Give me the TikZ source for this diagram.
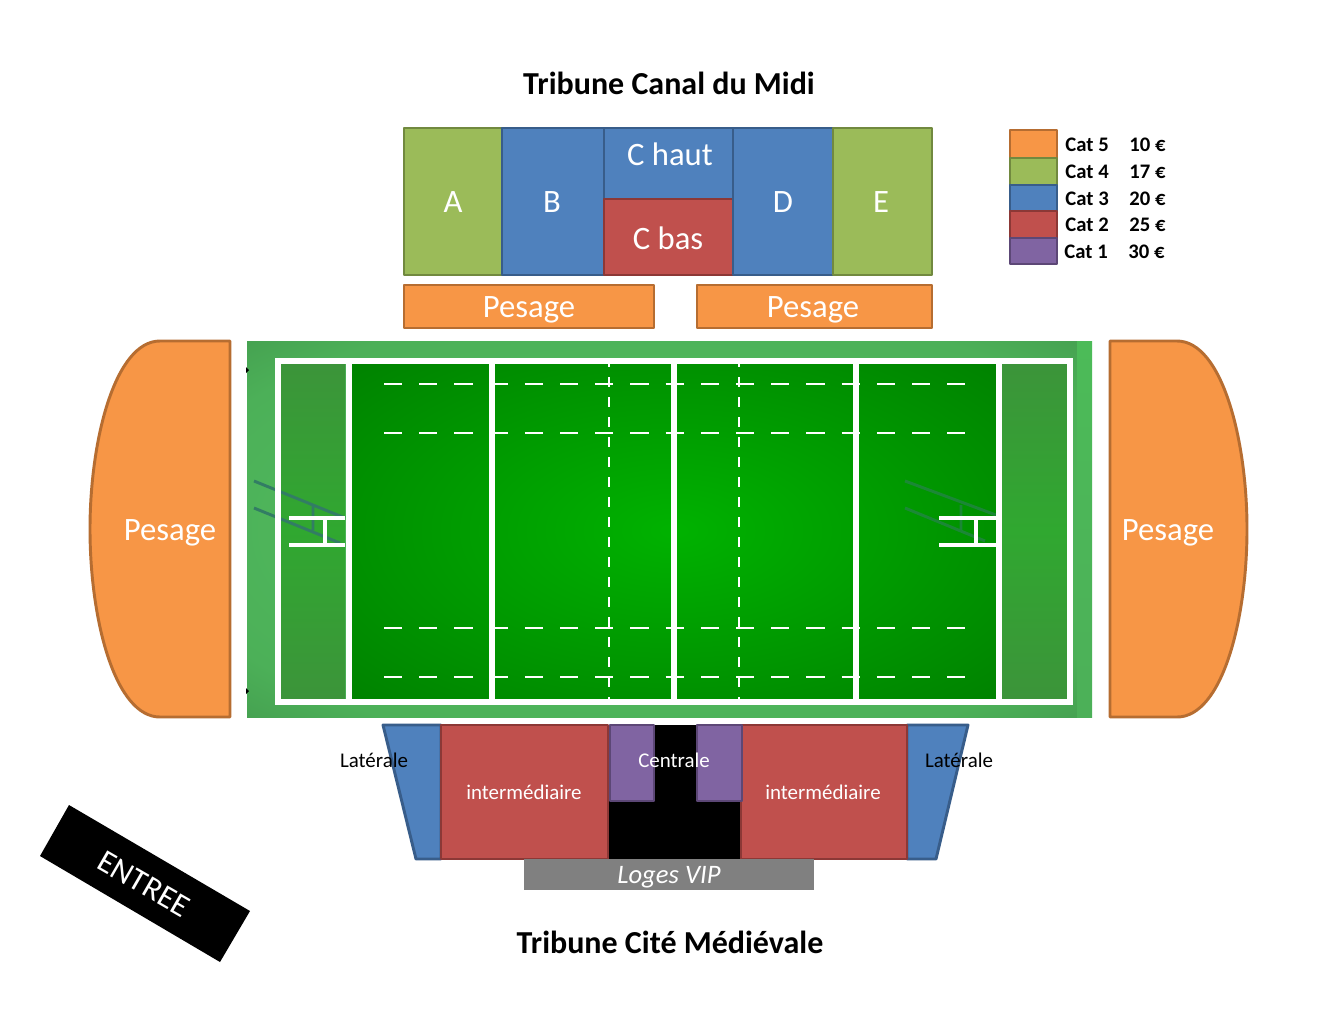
\documentclass[tikz,border=0pt]{standalone}
\usepackage{fontspec}
\setmainfont{Carlito}
\definecolor{orangeF}{HTML}{F79646}
\definecolor{orangeD}{HTML}{B66D31}
\definecolor{greenF}{HTML}{9BBB59}
\definecolor{greenD}{HTML}{71893F}
\definecolor{blueF}{HTML}{4F81BD}
\definecolor{blueD}{HTML}{385D8A}
\definecolor{redF}{HTML}{C0504D}
\definecolor{redD}{HTML}{8C3836}
\definecolor{purpleF}{HTML}{8064A2}
\definecolor{purpleD}{HTML}{5C4776}
\definecolor{postShadow}{RGB}{50,125,100}
\definecolor{borderIn}{RGB}{84,196,98}
\definecolor{borderMid}{RGB}{76,176,88}
\definecolor{borderOut}{RGB}{62,145,72}
\definecolor{borderStrip}{RGB}{76,187,88}
\definecolor{fieldIn}{RGB}{0,178,0}
\definecolor{fieldOut}{RGB}{0,128,0}
\definecolor{goalEdge}{RGB}{60,148,58}
\definecolor{goalMid}{RGB}{48,168,48}
\pgfdeclareradialshading{fieldglow}{\pgfpointorigin}{color(0bp)=(fieldIn); color(37bp)=(fieldOut); color(71bp)=(fieldOut)}
\pgfdeclareradialshading{borderglow}{\pgfpointorigin}{color(0bp)=(borderIn); color(30bp)=(borderMid); color(42bp)=(borderOut); color(71bp)=(borderOut)}
\tikzset{
  cat5/.style={fill=orangeF, draw=orangeD},
  cat4/.style={fill=greenF, draw=greenD},
  cat3/.style={fill=blueF, draw=blueD},
  cat2/.style={fill=redF, draw=redD},
  cat1/.style={fill=purpleF, draw=purpleD},
  goalzone/.style={top color=goalEdge, bottom color=goalEdge, middle color=goalMid},
  seatlabel/.style={text=white, font=\fontsize{24.5}{24.5}\selectfont},
  pesagelabel/.style={text=white, font=\fontsize{24.5}{24.5}\selectfont, yshift=-2pt},
  smalllabel/.style={font=\fontsize{15.7}{15.7}\selectfont},
  titlelabel/.style={font=\bfseries\fontsize{24}{24}\selectfont},
  legendlabel/.style={font=\bfseries\fontsize{15.5}{15.5}\selectfont, anchor=west, inner sep=0pt},
}
\begin{document}
\begin{tikzpicture}[x=0.75pt, y=-0.75pt, line width=2.2pt, line join=round]
    \useasboundingbox (0, 0) rectangle (1344, 1008);
    \fill[white] (0, 0) rectangle (1344, 1008);

    % titres
    \node[titlelabel] (titleTop) at (669, 83) {Tribune Canal du Midi};
    \node[titlelabel] (titleBottom) at (670, 942) {Tribune Cité Médiévale};

    % tribune haut
    \draw[cat4] (404, 128) rectangle (502, 275);
    \draw[cat3] (502, 128) rectangle (604, 275);
    \draw[cat3] (604, 128) rectangle (733, 199);
    \draw[cat2] (604, 199) rectangle (733, 275);
    \draw[cat3] (733, 128) rectangle (833, 275);
    \draw[cat4] (833, 128) rectangle (932, 275);
    \node[seatlabel] (secA) at (453, 202) {A};
    \node[seatlabel] (secB) at (552, 202) {B};
    \node[seatlabel] (secChaut) at (670, 154) {C haut};
    \node[seatlabel] (secCbas) at (668, 238) {C bas};
    \node[seatlabel] (secD) at (783, 202) {D};
    \node[seatlabel] (secE) at (881, 202) {E};

    % pesage haut
    \draw[cat5] (404, 285) rectangle (654, 328);
    \draw[cat5] (697, 285) rectangle (932, 328);
    \node[pesagelabel] (pesageA) at (529, 307) {Pesage};
    \node[pesagelabel] (pesageB) at (813, 307) {Pesage};

    % legende
    \foreach \ya/\yb/\c/\n/\p/\dx in {130/158/cat5/5/10/0, 158/185/cat4/4/17/0, 185/211/cat3/3/20/0, 211/238/cat2/2/25/0, 238/264/cat1/1/30/-1} {
        \draw[\c] (1010, \ya) rectangle (1057, \yb);
        \node[legendlabel] (legendCat\n) at ({1064+\dx}, {(\ya+\yb)/2+0.5}) {Cat \n};
        \node[legendlabel] (legendPrice\n) at ({1128+\dx}, {(\ya+\yb)/2+0.5}) {\p\ €};
    }

    % terrain
    \shade[shading=borderglow] (247, 341) rectangle (1077, 717);
    \shade[top color=borderStrip, bottom color=borderMid] (1077, 341) rectangle (1092, 717);
    \fill[black] (246, 367) -- (249, 370) -- (246, 373) -- cycle;
    \fill[black] (246, 688) -- (249, 691) -- (246, 694) -- cycle;
    \shade[shading=fieldglow] (352, 362) rectangle (996, 699);
    \shade[goalzone] (281, 362) rectangle (345, 699);
    \shade[goalzone] (1002, 362) rectangle (1067, 699);

    % ombres des poteaux
    \draw[postShadow, line width=2.2pt] (254, 481) -- (345, 518) (254, 508) -- (340, 543) (313, 505) -- (313, 530);
    \draw[postShadow, opacity=.55, line width=2.2pt] (905, 481) -- (996, 515) (905, 508) -- (985, 541) (961, 505) -- (961, 530);

    % lignes
    \foreach \y in {384, 433, 628, 677} {
        \draw[white, line width=1.8pt, dash pattern=on 13.6pt off 12.8pt] (384, \y) -- (965, \y);
    }
    \foreach \x in {609, 739} {
        \draw[white, line width=2pt, dash pattern=on 7.8pt off 7.2pt, dash phase=1.5pt] (\x, 359) -- (\x, 700);
    }
    \draw[white, line width=4.5pt, line join=miter] (278, 361) rectangle (1070, 702);
    \foreach \x in {348.5, 492, 674, 856, 999} {
        \draw[white, line width=4.5pt] (\x, 361) -- (\x, 702);
    }

    % poteaux
    \draw[white, line width=3pt] (289, 518) -- (345, 518) (289, 545) -- (345, 545) (325, 518) -- (325, 545);
    \draw[white, line width=3pt] (939, 518) -- (996, 518) (939, 545) -- (996, 545) (976, 518) -- (976, 545);

    % pesage cotes
    \draw[cat5] (230, 341) -- (160, 341) .. controls (115, 341) and (90, 440) .. (90, 529) .. controls (90, 620) and (115, 717) .. (160, 717) -- (230, 717) -- cycle;
    \draw[cat5] (1110, 341) -- (1177, 341) .. controls (1222, 341) and (1247, 440) .. (1247, 529) .. controls (1247, 620) and (1222, 717) .. (1177, 717) -- (1110, 717) -- cycle;
    \node[pesagelabel] (pesageLeft) at (170, 530) {Pesage};
    \node[pesagelabel] (pesageRight) at (1168, 530) {Pesage};

    % tribune bas
    \fill[black] (609, 725) rectangle (741, 859);
    \draw[cat3] (383, 725) -- (441, 725) -- (441, 859) -- (416, 859) -- cycle;
    \draw[cat3] (907, 725) -- (968, 725) -- (936, 859) -- (907, 859) -- cycle;
    \draw[cat2] (441, 725) rectangle (608, 859);
    \draw[cat2] (741, 725) rectangle (907, 859);
    \draw[cat1] (610, 725) rectangle (654, 801);
    \draw[cat1] (697, 725) rectangle (742, 801);
    \fill[gray] (524, 859) rectangle (814, 890);
    \node[smalllabel] (lateralLeft) at (374, 760) {Latérale};
    \node[smalllabel] (lateralRight) at (959, 760) {Latérale};
    \node[smalllabel, text=white] (centrale) at (674, 760) {Centrale};
    \node[smalllabel, text=white] (interLeft) at (524, 792) {intermédiaire};
    \node[smalllabel, text=white] (interRight) at (823, 792) {intermédiaire};
    \node[text=white, font=\itshape\fontsize{20}{20}\selectfont, yshift=-2pt] (loges) at (669, 875) {Loges VIP};

    % entree
    \fill[black] (69, 805) -- (250, 911) -- (220, 962) -- (40, 856) -- cycle;
    \node[rotate=-30, font=\fontsize{24}{24}\selectfont, text=white] (entree) at (144, 884) {ENTREE};
\end{tikzpicture}
\end{document}
